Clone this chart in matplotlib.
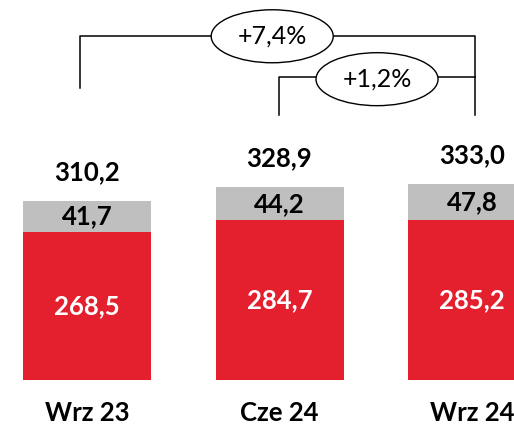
import matplotlib
matplotlib.use("Agg")
import matplotlib.pyplot as plt
from matplotlib.patches import Ellipse

# dane
okresy = ["Wrz 23", "Cze 24", "Wrz 24"]
czerwone = [268.5, 284.7, 285.2]
szare = [41.7, 44.2, 47.8]
sumy = [310.2, 328.9, 333.0]
zmiany = ["+7,4%", "+1,2%"]

CZERWONY = "#E4202E"
SZARY = "#BFBFBF"
FONT = "Lato"

def fmt(v):
    return f"{v:.1f}".replace(".", ",")

fig = plt.figure(figsize=(5.14, 4.24), dpi=100)
ax = fig.add_axes([0, 44 / 424, 1, 380 / 424])
ax.set_xlim(-0.452, 2.218)
ax.set_ylim(68.5, 582)
ax.axis("off")

x = list(range(len(okresy)))
w = 0.665
ax.bar(x, czerwone, width=w, color=CZERWONY)
ax.bar(x, szare, width=w, bottom=czerwone, color=SZARY)

fs = 18.5
for i in x:
    # etykieta czerwona - srodek widocznej czesci
    ax.text(i, (68.5 + czerwone[i]) / 2, fmt(czerwone[i]), ha="center", va="center",
            color="white", fontsize=fs, fontweight="bold", family=FONT)
    ax.text(i, czerwone[i] + szare[i] / 2, fmt(szare[i]), ha="center", va="center",
            color="black", fontsize=fs, fontweight="bold", family=FONT)
    ax.text(i, sumy[i] + 39, fmt(sumy[i]), ha="center", va="center",
            color="black", fontsize=fs, fontweight="bold", family=FONT)
    ax.text(i, 68.5 - 45, okresy[i], ha="center", va="center", clip_on=False,
            color="black", fontsize=fs, fontweight="bold", family=FONT)

# klamry
lw = 1.1
y1, y2 = 533, 478
ax.plot([0 - 0.036, 0 - 0.036, 2.016, 2.016], [463, y1, y1, 426.6], color="black", lw=lw)
ax.plot([0.995, 0.995, 2.016], [426.6, y2, y2], color="black", lw=lw)

for cx, cy, t in [(0.962, y1, zmiany[0]), (1.5065, 475, zmiany[1])]:
    ax.add_patch(Ellipse((cx, cy), 0.634, 71.6, facecolor="white", edgecolor="black", lw=1.0, zorder=3))
    ax.text(cx, cy, t, ha="center", va="center", fontsize=18, family=FONT, zorder=4)

fig.savefig("out.png", dpi=100)
